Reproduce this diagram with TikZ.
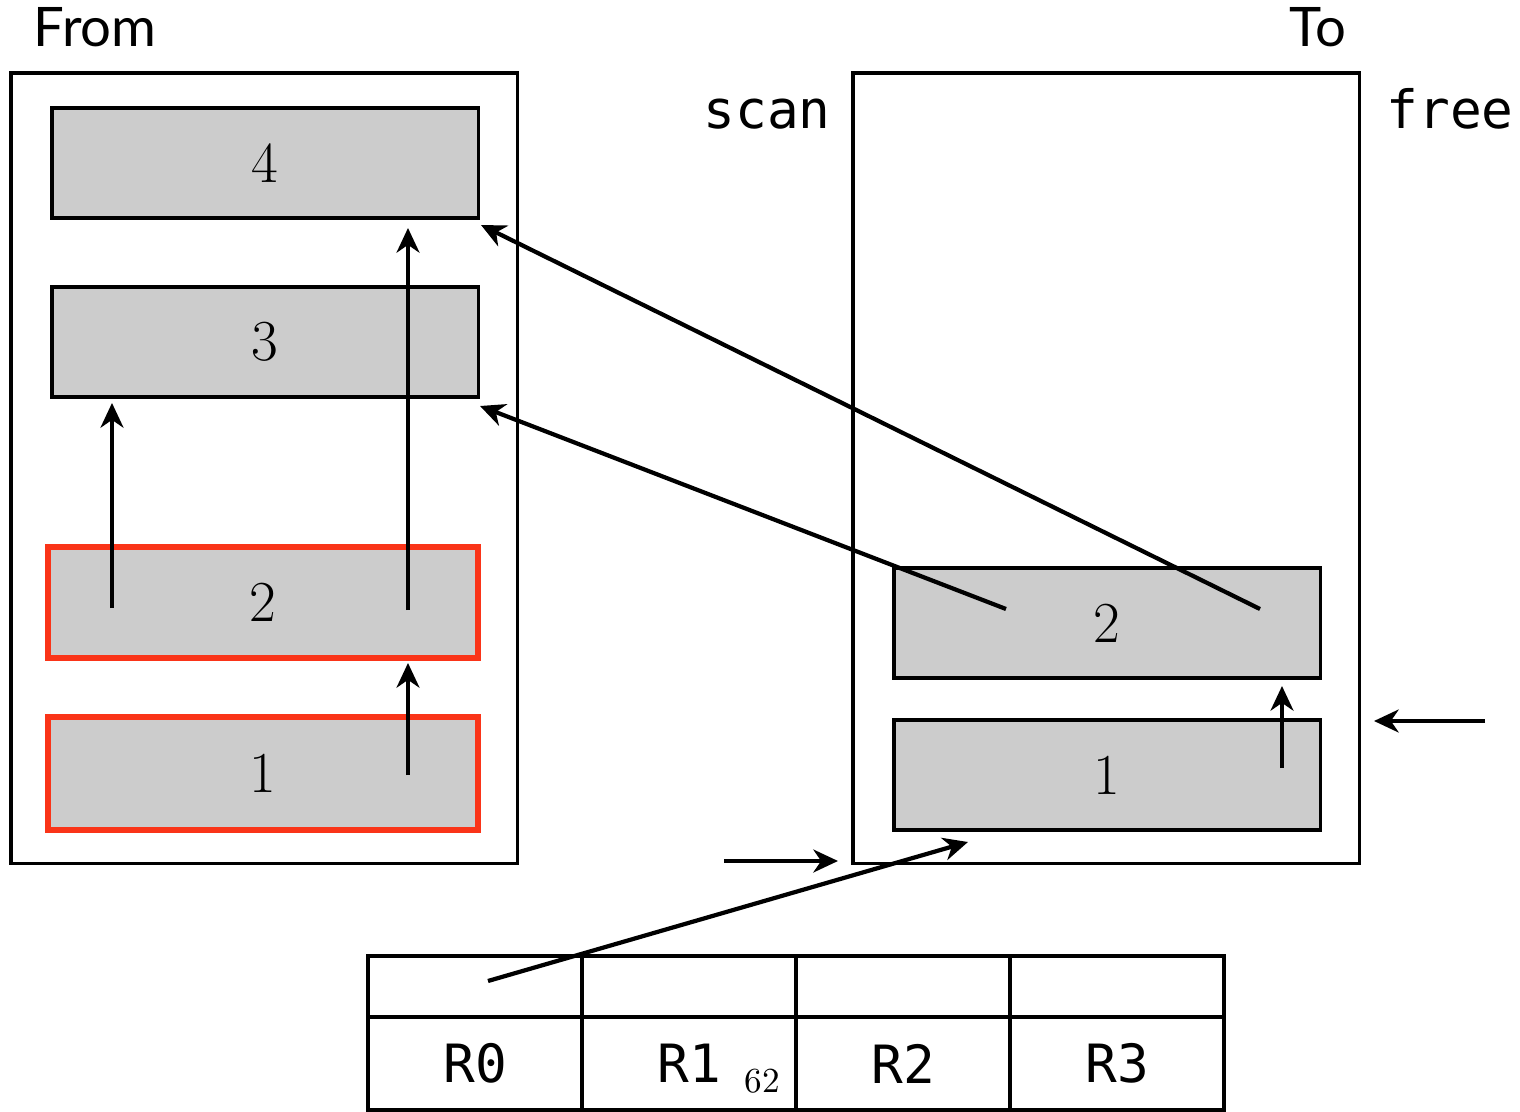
\documentclass[tikz,border=0pt]{standalone}
\usepackage{fontspec}
\setmonofont{DejaVu Sans Mono}
\newfontfamily\headfont{Lato}
\usetikzlibrary{arrows.meta}
\definecolor{boxgray}{HTML}{CCCCCC}
\definecolor{redc}{HTML}{FA3418}
\begin{document}
\begin{tikzpicture}[x=0.01cm,y=-0.01cm,
  frame/.style={draw=black,line width=0.95pt,inner sep=0,outer sep=0,anchor=north west},
  cell/.style={draw=black,line width=0.95pt,fill=boxgray,minimum width=4.26cm,minimum height=1.10cm,inner sep=0,outer sep=0,anchor=north west,font=\fontsize{16.5}{18}\selectfont},
  redcell/.style={cell,draw=redc,line width=1.8pt,minimum width=4.30cm},
  regtop/.style={draw=black,line width=0.95pt,minimum width=2.14cm,minimum height=0.61cm,inner sep=0,outer sep=0,anchor=north west},
  regbot/.style={draw=black,line width=0.95pt,minimum width=2.14cm,minimum height=0.93cm,inner sep=0,outer sep=0,anchor=north west,font=\ttfamily\fontsize{15}{18}\selectfont},
  arr/.style={line width=1.2pt,-{Stealth[length=7pt,width=6.5pt,inset=2.2pt]}},
  head/.style={font=\headfont\fontsize{15.5}{18}\selectfont,inner sep=0},
  mono/.style={font=\ttfamily\fontsize{15}{18}\selectfont,inner sep=0}]
\useasboundingbox (0,0) rectangle (1520,1112);
% headers
\node[head,anchor=base west] (from) at (33,47) {From};
\node[head,anchor=base east] (to) at (1347,47) {To};
\node[mono,anchor=base west] (scan) at (703,128) {scan};
\node[mono,anchor=base west] (free) at (1386,128) {free};
% From space
\node[frame,minimum width=5.06cm,minimum height=7.90cm] (fromsp) at (11,73) {};
\node[cell] (f4) at (52,108) {4};
\node[cell] (f3) at (52,287) {3};
\node[redcell,minimum height=1.11cm] (f2) at (48,547) {2};
\node[redcell,minimum height=1.13cm] (f1) at (48,717) {1};
% To space
\node[frame,minimum width=5.06cm,minimum height=7.90cm] (tosp) at (853,73) {};
\node[cell] (t2) at (894,568) {2};
\node[cell] (t1) at (894,720) {1};
% registers
\foreach \i/\x/\r in {0/368/R0,1/582/R1,2/796/R2,3/1010/R3}{
  \node[regtop] (rt\i) at (\x,956) {};
  \node[regbot] (rb\i) at (\x,1017) {\r};
}
\node[font=\fontsize{10}{12}\selectfont,inner sep=0] (pg) at (762,1081) {62};
% coordinates
\coordinate (a1s) at (112,608); \coordinate (a1e) at (112,403);
\coordinate (a2s) at (408,610); \coordinate (a2e) at (408,228);
\coordinate (a3s) at (408,775); \coordinate (a3e) at (408,663);
\coordinate (a4s) at (1282,768); \coordinate (a4e) at (1282,686);
\coordinate (fr) at (1485,721); \coordinate (fre) at (1374,721);
\coordinate (sc) at (724,861); \coordinate (sce) at (838,861);
\coordinate (r0p) at (488,981); \coordinate (r0e) at (968,842);
\coordinate (t2a) at (1006,609); \coordinate (t2ae) at (480,406);
\coordinate (t2b) at (1260,609); \coordinate (t2be) at (481,225);
% arrows
\draw[arr] (a1s) -- (a1e);
\draw[arr] (a2s) -- (a2e);
\draw[arr] (a3s) -- (a3e);
\draw[arr] (a4s) -- (a4e);
\draw[arr] (fr) -- (fre);
\draw[arr] (sc) -- (sce);
\draw[arr] (r0p) -- (r0e);
\draw[arr] (t2a) -- (t2ae);
\draw[arr] (t2b) -- (t2be);
\end{tikzpicture}
\end{document}
